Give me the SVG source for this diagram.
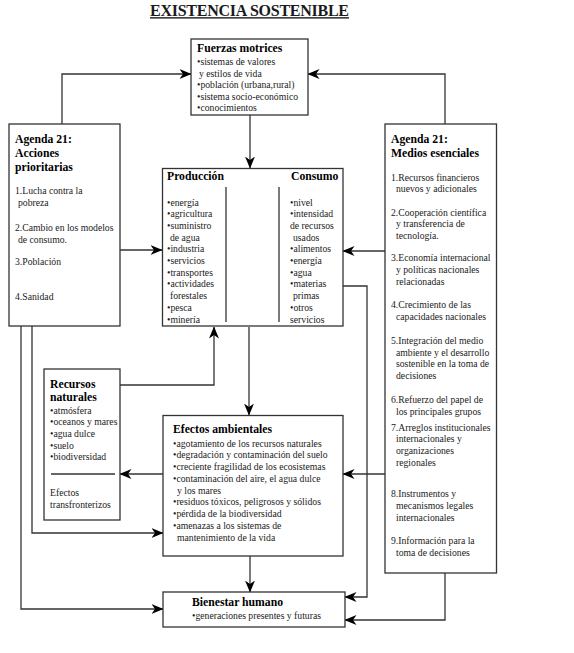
<svg xmlns="http://www.w3.org/2000/svg" width="574" height="653" viewBox="0 0 574 653">
<style>
.box{fill:#fff;stroke:#333;stroke-width:1.3}
.ln{fill:none;stroke:#333;stroke-width:1.3}
text{font-family:"Liberation Serif","Times New Roman",serif;fill:#1a1a1a}
.t{font-size:9.7px}
.h{font-size:11.7px;font-weight:bold;fill:#000}
</style>
<defs>
<marker id="ah" viewBox="0 0 12 10" markerWidth="12" markerHeight="10" refX="11.5" refY="5" orient="auto" markerUnits="userSpaceOnUse">
<path d="M0,0 L12,5 L0,10 L3.5,5 z" fill="#000"/>
</marker>
<marker id="as" viewBox="0 0 12 10" markerWidth="12" markerHeight="10" refX="0.5" refY="5" orient="auto" markerUnits="userSpaceOnUse">
<path d="M12,0 L0,5 L12,10 L8.5,5 z" fill="#000"/>
</marker>
</defs>
<rect width="574" height="653" fill="#fff"/>
<g id="title">
<text x="150" y="15.5" style="font-size:16px;font-weight:bold" textLength="199" fill="#000">EXISTENCIA SOSTENIBLE</text>
<line x1="150" y1="17.8" x2="349" y2="17.8" stroke="#000" stroke-width="1.2"/>
</g>
<g id="connectors">
<polyline class="ln" points="62,124 62,74 191,74" marker-end="url(#ah)"/>
<polyline class="ln" points="445,124 445,74 308,74" marker-end="url(#ah)"/>
<line class="ln" x1="250" y1="115" x2="250" y2="168" marker-end="url(#ah)"/>
<line class="ln" x1="120" y1="250" x2="162" y2="250" marker-end="url(#ah)"/>
<line class="ln" x1="385" y1="251" x2="343" y2="251" marker-end="url(#ah)"/>
<line class="ln" x1="233" y1="251" x2="272" y2="251" marker-start="url(#as)" marker-end="url(#ah)"/>
<polyline class="ln" points="343,286 367,286 367,597 345,597" marker-end="url(#ah)"/>
<polyline class="ln" points="120,385 214,385 214,327" marker-end="url(#ah)"/>
<line class="ln" x1="249" y1="327" x2="249" y2="415" marker-end="url(#ah)"/>
<line class="ln" x1="385" y1="474" x2="343" y2="474" marker-end="url(#ah)"/>
<line class="ln" x1="163" y1="474" x2="120" y2="474" marker-end="url(#ah)"/>
<polyline class="ln" points="32,326 32,533 163,533" marker-end="url(#ah)"/>
<polyline class="ln" points="21,326 21,609 163,609" marker-end="url(#ah)"/>
<line class="ln" x1="250" y1="556" x2="250" y2="592" marker-end="url(#ah)"/>
<polyline class="ln" points="445,573 445,620 345,620" marker-end="url(#ah)"/>
</g>
<g id="fuerzas">
<rect class="box" x="191" y="39" width="117" height="76"/>
<text class="h" x="197" y="52">Fuerzas motrices</text>
<text class="t" x="197" y="65">•sistemas de valores</text>
<text class="t" x="199" y="76.5">y estilos de vida</text>
<text class="t" x="197" y="88">•población (urbana,rural)</text>
<text class="t" x="197" y="99.5">•sistema socio-económico</text>
<text class="t" x="197" y="111">•conocimientos</text>
</g>
<g id="agenda-acciones">
<rect class="box" x="9" y="124" width="111" height="202"/>
<text class="h" x="15" y="143">Agenda 21:</text>
<text class="h" x="15" y="157">Acciones</text>
<text class="h" x="15" y="171">prioritarias</text>
<text class="t" x="15" y="194">1.Lucha contra la</text>
<text class="t" x="18" y="206">pobreza</text>
<text class="t" x="15" y="230.5">2.Cambio en los modelos</text>
<text class="t" x="18" y="242.5">de consumo.</text>
<text class="t" x="15" y="265">3.Población</text>
<text class="t" x="15" y="300">4.Sanidad</text>
</g>
<g id="produccion-consumo">
<rect class="box" x="162.5" y="168.5" width="180.5" height="157.5"/>
<line class="ln" x1="226" y1="187" x2="226" y2="322"/>
<line class="ln" x1="279" y1="187" x2="279" y2="322"/>
<text class="h" x="167" y="180">Producción</text>
<text class="h" x="291" y="180">Consumo</text>
<text class="t" x="167" y="205.5">•energía</text>
<text class="t" x="167" y="217.2">•agricultura</text>
<text class="t" x="167" y="228.9">•suministro</text>
<text class="t" x="170" y="240.6">de agua</text>
<text class="t" x="167" y="252.3">•industria</text>
<text class="t" x="167" y="264">•servicios</text>
<text class="t" x="167" y="275.7">•transportes</text>
<text class="t" x="167" y="287.4">•actividades</text>
<text class="t" x="170" y="299.1">forestales</text>
<text class="t" x="167" y="310.8">•pesca</text>
<text class="t" x="167" y="322.5">•minería</text>
<text class="t" x="290" y="205.5">•nivel</text>
<text class="t" x="290" y="217.2">•intensidad</text>
<text class="t" x="290" y="228.9">de recursos</text>
<text class="t" x="293" y="240.6">usados</text>
<text class="t" x="290" y="252.3">•alimentos</text>
<text class="t" x="290" y="264">•energía</text>
<text class="t" x="290" y="275.7">•agua</text>
<text class="t" x="290" y="287.4">•materias</text>
<text class="t" x="293" y="299.1">primas</text>
<text class="t" x="290" y="310.8">•otros</text>
<text class="t" x="290" y="322.5">servicios</text>
</g>
<g id="agenda-medios">
<rect class="box" x="385" y="124" width="111.5" height="449"/>
<text class="h" x="391" y="143">Agenda 21:</text>
<text class="h" x="391" y="157">Medios esenciales</text>
<text class="t" x="391" y="180.9">1.Recursos financieros</text>
<text class="t" x="396" y="191.5">nuevos y adicionales</text>
<text class="t" x="391" y="215.5">2.Cooperación científica</text>
<text class="t" x="396" y="227.2">y transferencia de</text>
<text class="t" x="396" y="238.9">tecnología.</text>
<text class="t" x="391" y="261.2">3.Economía internacional</text>
<text class="t" x="396" y="272.9">y políticas nacionales</text>
<text class="t" x="396" y="284.5">relacionadas</text>
<text class="t" x="391" y="308.2">4.Crecimiento de las</text>
<text class="t" x="396" y="319.9">capacidades nacionales</text>
<text class="t" x="391" y="343.9">5.Integración del medio</text>
<text class="t" x="396" y="355.5">ambiente y el desarrollo</text>
<text class="t" x="396" y="367.2">sostenible en la toma de</text>
<text class="t" x="396" y="378.9">decisiones</text>
<text class="t" x="391" y="403.2">6.Refuerzo del papel de</text>
<text class="t" x="396" y="414.9">los principales grupos</text>
<text class="t" x="391" y="430.5">7.Arreglos institucionales</text>
<text class="t" x="396" y="442.2">internacionales y</text>
<text class="t" x="396" y="453.9">organizaciones</text>
<text class="t" x="396" y="465.5">regionales</text>
<text class="t" x="391" y="497.2">8.Instrumentos y</text>
<text class="t" x="396" y="508.9">mecanismos legales</text>
<text class="t" x="396" y="520.5">internacionales</text>
<text class="t" x="391" y="543.9">9.Información para la</text>
<text class="t" x="396" y="555.5">toma de decisiones</text>
</g>
<g id="recursos">
<rect class="box" x="44" y="369" width="76" height="151"/>
<text class="h" x="50" y="387.5">Recursos</text>
<text class="h" x="50" y="400.5">naturales</text>
<text class="t" x="50" y="413.5">•atmósfera</text>
<text class="t" x="50" y="425.2">•oceanos y mares</text>
<text class="t" x="50" y="436.9">•agua dulce</text>
<text class="t" x="50" y="448.6">•suelo</text>
<text class="t" x="50" y="460.3">•biodiversidad</text>
<line class="ln" x1="51" y1="474" x2="115" y2="474"/>
<text class="t" x="50" y="496.2">Efectos</text>
<text class="t" x="50" y="508.2">transfronterizos</text>
</g>
<g id="efectos">
<rect class="box" x="163" y="415.5" width="180" height="140.5"/>
<text class="h" x="173" y="433">Efectos ambientales</text>
<text class="t" x="173" y="446.5">•agotamiento de los recursos naturales</text>
<text class="t" x="173" y="458.2">•degradación y contaminación del suelo</text>
<text class="t" x="173" y="470">•creciente fragilidad de los ecosistemas</text>
<text class="t" x="173" y="481.7">•contaminación del aire, el agua dulce</text>
<text class="t" x="177" y="493.5">y los mares</text>
<text class="t" x="173" y="505.2">•residuos tóxicos, peligrosos y sólidos</text>
<text class="t" x="173" y="517">•pérdida de la biodiversidad</text>
<text class="t" x="173" y="528.7">•amenazas a los sistemas de</text>
<text class="t" x="177" y="540.5">mantenimiento de la vida</text>
</g>
<g id="bienestar">
<rect class="box" x="163" y="592" width="182" height="35"/>
<text class="h" x="192" y="606">Bienestar humano</text>
<text class="t" x="192" y="618.5">•generaciones presentes y futuras</text>
</g>
</svg>
